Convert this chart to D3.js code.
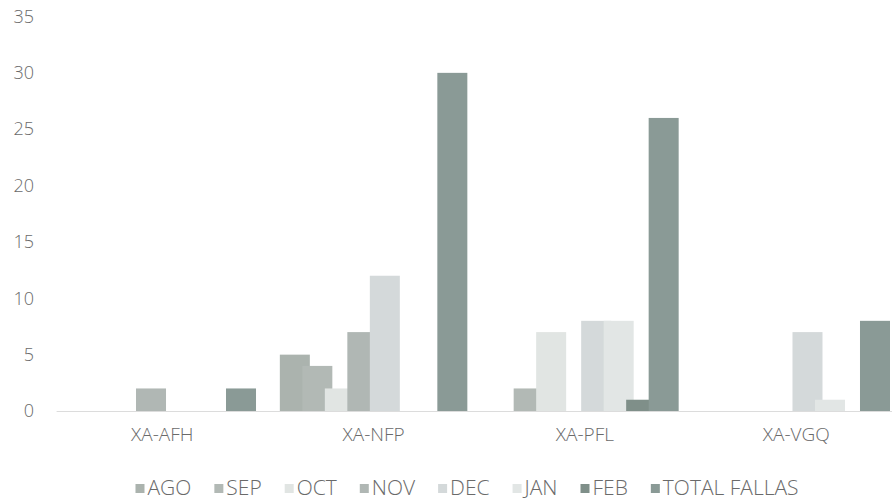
<!DOCTYPE html>
<html>
<head>
<meta charset="utf-8">
<title>Fallas por aeronave</title>
<script src="https://d3js.org/d3.v7.min.js"></script>
<style>
    body { margin: 0; background: white; }
    svg text { font-family: "Open Sans", sans-serif; font-weight: 300; fill: #6a6a6a; }
</style>
</head>
<body>
<svg width="892" height="501"></svg>
<script>
// data
var aircraft = ["XA-AFH", "XA-NFP", "XA-PFL", "XA-VGQ"];
var months = ["AGO", "SEP", "OCT", "NOV", "DEC", "JAN", "FEB", "TOTAL FALLAS"];
var ago   = [0, 5, 0, 0];
var sep   = [0, 4, 2, 0];
var oct   = [0, 2, 7, 0];
var nov   = [2, 7, 0, 0];
var dec   = [0, 12, 8, 7];
var jan   = [0, 0, 8, 1];
var feb   = [0, 0, 1, 0];
var total = [2, 30, 26, 8];
var yTicks = [0, 5, 10, 15, 20, 25, 30, 35];

var colors = ["#abb3ae", "#b2b9b5", "#e1e5e3", "#b0b7b4", "#d4d9da", "#e2e6e5", "#7f8f89", "#8a9a96"];
var values = [ago, sep, oct, nov, dec, jan, feb, total];

var svg = d3.select("svg");

// plot runs past the right edge, the scan is cropped there
var x0 = d3.scaleBand().domain(aircraft).range([56.6, 901.9]);
var ys = d3.scaleLinear().domain([0, 35]).range([411, 16.5]);

// bars overlap 25%, so step is 3/4 of bar width
var barW = 30, step = barW * 0.75;
var groupW = step * 7 + barW;
var x1 = d3.scaleBand().domain(months).range([0, step * months.length]);

// baseline
svg.append("line")
    .attr("x1", 56.6).attr("x2", 892)
    .attr("y1", ys(0) + 0.5).attr("y2", ys(0) + 0.5)
    .attr("stroke", "#dcdcdc").attr("stroke-width", 1);

// y axis labels
var yAxis = svg.append("g")
    .attr("transform", "translate(34,0)")
    .call(d3.axisLeft(ys).tickValues(yTicks).tickSize(0).tickPadding(0));
yAxis.select(".domain").remove();
yAxis.selectAll("text").style("font-size", "18px").attr("fill", null);

// x axis labels
var xAxis = svg.append("g")
    .attr("transform", "translate(0," + ys(0) + ")")
    .call(d3.axisBottom(x0).tickSize(0).tickPadding(17));
xAxis.select(".domain").remove();
xAxis.selectAll("text").style("font-size", "19px").attr("fill", null);

// bars, one group per series so later months sit on top
months.forEach(function(m, si) {
    svg.append("g")
        .selectAll("rect")
        .data(aircraft.map(function(a, i) { return {a: a, v: values[si][i]}; }))
        .enter()
        .append("rect")
            .attr("x", function(d) { return x0(d.a) + (x0.bandwidth() - groupW) / 2 + x1(m); })
            .attr("y", function(d) { return ys(d.v); })
            .attr("width", barW)
            .attr("height", function(d) { return ys(0) - ys(d.v); })
            .attr("fill", colors[si]);
});

// legend
var legend = svg.append("g").attr("transform", "translate(0,488)");
var items = legend.selectAll("g")
    .data(months)
    .enter()
    .append("g");
items.append("rect")
    .attr("width", 9).attr("height", 9)
    .attr("y", -4)
    .attr("fill", function(d, i) { return colors[i]; });
items.append("text")
    .attr("x", 12)
    .attr("dy", "0.35em")
    .style("font-size", "21px")
    .text(function(d) { return d; });

var gap = 23, pos = 0, widths = [];
items.each(function() {
    var w = 12 + d3.select(this).select("text").node().getComputedTextLength();
    widths.push(w);
});
var totalW = d3.sum(widths) + gap * (months.length - 1);
pos = 467 - totalW / 2;
items.attr("transform", function(d, i) {
    var p = pos;
    pos += widths[i] + gap;
    return "translate(" + p + ",0)";
});
</script>
</body>
</html>
